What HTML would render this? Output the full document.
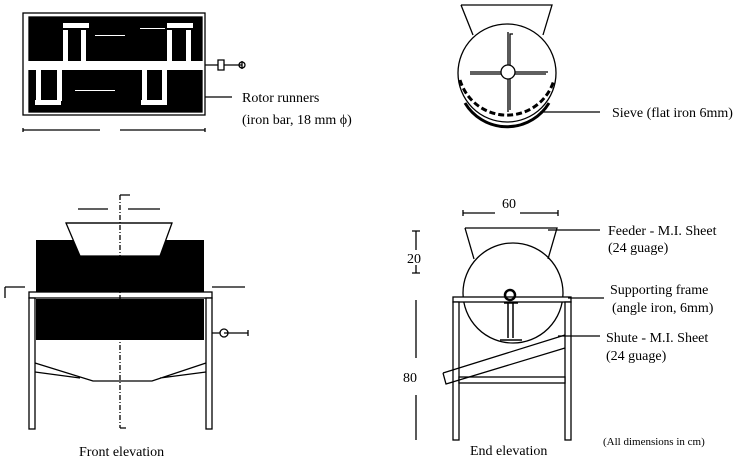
<!DOCTYPE html>
<html><head><style>
html,body{margin:0;padding:0;background:#fff;}
svg{display:block}
text{font-family:"Liberation Serif",serif;font-size:14px;fill:#000}
</style></head><body>
<svg width="750" height="468" viewBox="0 0 750 468" xmlns="http://www.w3.org/2000/svg">
<g stroke="#000" fill="none" stroke-width="1.3">
<!-- TOP PLAN -->
<rect x="23" y="13" width="182" height="102"/>
<rect x="29" y="17" width="173" height="95" fill="#000"/>
<rect x="27" y="61" width="177" height="9" fill="#fff" stroke="none"/>
<g fill="#fff" stroke="none">
<rect x="63" y="23" width="26" height="5"/><rect x="63" y="30" width="5" height="31"/><rect x="81" y="30" width="5" height="31"/>
<rect x="167" y="23" width="26" height="5"/><rect x="167" y="30" width="5" height="31"/><rect x="186" y="30" width="5" height="31"/>
<rect x="35" y="100" width="26" height="5"/><rect x="36" y="70" width="5" height="31"/><rect x="57" y="70" width="5" height="31"/>
<rect x="141" y="100" width="26" height="5"/><rect x="142" y="70" width="5" height="31"/><rect x="162" y="70" width="5" height="31"/>
<rect x="95" y="35" width="30" height="1"/><rect x="140" y="28" width="25" height="1"/><rect x="75" y="90" width="40" height="1"/>
</g>
<path d="M205 65 H218 M218 60 h6 v10 h-6z M224 65 H242 M242 61 v8"/>
<circle cx="242" cy="65" r="3"/>
<path d="M205 97 H232"/>
<path d="M23 128 V132 M23 130 H100 M120 130 H205 M205 128 V132"/>

<!-- TOP RIGHT CIRCLE -->
<path d="M461 5 H552 L543 35 M461 5 L473 35"/>
<circle cx="507" cy="73" r="49"/>
<path d="M460 80 A49 49 0 0 0 554 80" stroke-width="3" stroke-dasharray="6 3"/>
<path d="M465 103 A49 49 0 0 0 549 103" stroke-width="3"/>
<circle cx="508" cy="72" r="7"/>
<path d="M508 65 V32 M510 65 V34 h3 M508 79 V112 M510 79 V110 M501 72 H470 M501 74 H470 M515 72 H548 M515 74 H546"/>
<path d="M540 112 H600"/>

<!-- FRONT ELEVATION -->
<rect x="36" y="240" width="168" height="52" fill="#000" stroke="none"/>
<path d="M66 223 H172 L160 256 H80 Z" fill="#fff"/>
<path d="M66 223 H172"/>
<rect x="29" y="292" width="183" height="6" fill="#fff"/>
<rect x="36" y="299" width="168" height="41" fill="#000" stroke="none"/>
<rect x="29" y="298" width="6" height="131" fill="#fff"/>
<rect x="206" y="298" width="6" height="131" fill="#fff"/>
<path d="M35 363 L93 381 H152 L206 363 M35 372 L80 378 M206 372 L160 378"/>
<path d="M120 195 V428" stroke-dasharray="5 2 1 2"/>
<path d="M120 195 h10 M120 428 h6"/>
<path d="M78 209 H108 M128 209 H160"/>
<path d="M5 287 V298 M5 287 H25 M212 287 L245 287"/>
<path d="M212 333 H220 M224 333 H248"/>
<circle cx="224" cy="333" r="4"/>
<path d="M248 330 v6"/>

<!-- END ELEVATION -->
<path d="M463 213 H495 M520 213 H558 M463 210 v6 M558 210 v6"/>
<circle cx="513" cy="293" r="50"/>
<path d="M465 228 H557 L548 259 M465 228 L474 259" fill="none"/>
<path d="M416 231 V250 M412 231 h8 M416 265 V273 M412 273 h8"/>
<path d="M416 300 V358 M416 395 V440"/>
<rect x="453" y="297" width="118" height="5" fill="#fff"/>
<rect x="453" y="302" width="6" height="138" fill="#fff"/>
<rect x="565" y="302" width="6" height="138" fill="#fff"/>
<rect x="459" y="377" width="106" height="6" fill="#fff"/>
<path d="M443 373 L565 335 M446 384 L565 348 M443 373 L446 384 L453 382"/>
<circle cx="510" cy="295" r="5" stroke-width="2.5"/>
<path d="M504 303 H518 M508 303 V338 M513 303 V338 M500 340 H522" stroke-width="1.5"/>
<path d="M548 230 H600 M568 298 H604 M558 336 H600"/>
</g>
<text x="242" y="102">Rotor runners</text>
<text x="242" y="124">(iron bar, 18 mm ϕ)</text>
<text x="612" y="117">Sieve (flat iron 6mm)</text>
<text x="79" y="456">Front elevation</text>
<text x="502" y="208">60</text>
<text x="407" y="263">20</text>
<text x="403" y="382">80</text>
<text x="608" y="235">Feeder - M.I. Sheet</text>
<text x="608" y="252">(24 guage)</text>
<text x="610" y="294">Supporting frame</text>
<text x="612" y="312">(angle iron, 6mm)</text>
<text x="606" y="342">Shute - M.I. Sheet</text>
<text x="606" y="360">(24 guage)</text>
<text x="470" y="455">End elevation</text>
<text x="603" y="445" style="font-size:11px">(All dimensions in cm)</text>
</svg>
</body></html>
